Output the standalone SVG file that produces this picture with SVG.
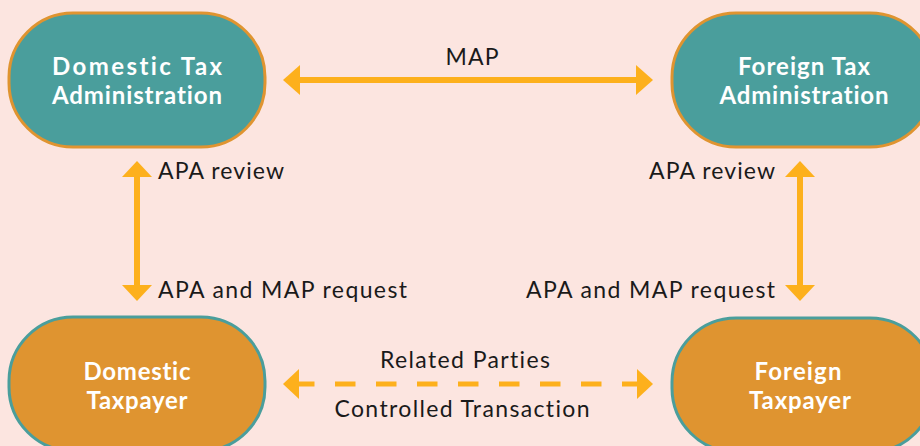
<svg xmlns="http://www.w3.org/2000/svg" width="920" height="446" viewBox="0 0 920 446">
  <style>
    .admin rect { fill: #4a9e9c; stroke: #df9430; stroke-width: 3; }
    .payer rect { fill: #df9430; stroke: #4a9e9c; stroke-width: 3; }
    text { font-variant-ligatures: none; }
    .title { font-family: "Lato", "Liberation Sans", sans-serif; font-weight: 700; font-size: 24px; fill: #ffffff; text-anchor: middle; }
    .label { font-family: "Lato", "Liberation Sans", sans-serif; font-size: 23px; fill: #1a1a1a; }
    .conn { stroke: #fdb01c; stroke-width: 6; fill: none; }
    .dash { stroke-width: 5; stroke-dasharray: 20.5 20.5; }
    .head { fill: #fdb01c; }
  </style>
  <rect width="920" height="446" fill="#fce5e0"/>

  <g id="domestic-tax-admin" class="admin">
    <rect x="9" y="13" width="256" height="134" rx="64" ry="64"/>
    <text class="title" x="137" y="75" textLength="170" lengthAdjust="spacing">Domestic Tax</text>
    <text class="title" x="137" y="104" textLength="170" lengthAdjust="spacing">Administration</text>
  </g>

  <g id="foreign-tax-admin" class="admin">
    <rect x="672" y="13" width="262" height="134" rx="64" ry="64"/>
    <text class="title" x="804" y="75" textLength="132" lengthAdjust="spacing">Foreign Tax</text>
    <text class="title" x="804" y="104" textLength="169" lengthAdjust="spacing">Administration</text>
  </g>

  <g id="domestic-taxpayer" class="payer">
    <rect x="9" y="317" width="256" height="134" rx="64" ry="64"/>
    <text class="title" x="137" y="380" textLength="107" lengthAdjust="spacing">Domestic</text>
    <text class="title" x="137" y="409" textLength="101" lengthAdjust="spacing">Taxpayer</text>
  </g>

  <g id="foreign-taxpayer" class="payer">
    <rect x="672" y="318" width="262" height="134" rx="64" ry="64"/>
    <text class="title" x="798" y="380" textLength="87" lengthAdjust="spacing">Foreign</text>
    <text class="title" x="800" y="409" textLength="102" lengthAdjust="spacing">Taxpayer</text>
  </g>

  <g id="connectors">
    <!-- MAP: administration to administration -->
    <line class="conn" x1="298" y1="80" x2="638" y2="80"/>
    <polygon class="head" points="283,80 300,65 300,95"/>
    <polygon class="head" points="653,80 636,65 636,95"/>
    <text class="label" x="472" y="65" text-anchor="middle" textLength="53" lengthAdjust="spacing">MAP</text>

    <!-- Domestic: taxpayer to administration -->
    <line class="conn" x1="137" y1="175" x2="137" y2="287"/>
    <polygon class="head" points="137,161 122,177 152,177"/>
    <polygon class="head" points="137,301 122,285 152,285"/>
    <text class="label" x="158" y="179" textLength="126" lengthAdjust="spacing">APA review</text>
    <text class="label" x="158" y="298" textLength="249" lengthAdjust="spacing">APA and MAP request</text>

    <!-- Foreign: taxpayer to administration -->
    <line class="conn" x1="800" y1="175" x2="800" y2="287"/>
    <polygon class="head" points="800,161 785,177 815,177"/>
    <polygon class="head" points="800,301 785,285 815,285"/>
    <text class="label" x="775" y="179" text-anchor="end" textLength="126" lengthAdjust="spacing">APA review</text>
    <text class="label" x="775" y="298" text-anchor="end" textLength="249" lengthAdjust="spacing">APA and MAP request</text>

    <!-- Controlled transaction between related parties -->
    <line class="conn dash" x1="294" y1="384" x2="643" y2="384"/>
    <polygon class="head" points="283,384 299,369 299,399"/>
    <polygon class="head" points="653,384 637,369 637,399"/>
    <text class="label" x="465" y="368" text-anchor="middle" textLength="170" lengthAdjust="spacing">Related Parties</text>
    <text class="label" x="462" y="417" text-anchor="middle" textLength="255" lengthAdjust="spacing">Controlled Transaction</text>
  </g>
</svg>
